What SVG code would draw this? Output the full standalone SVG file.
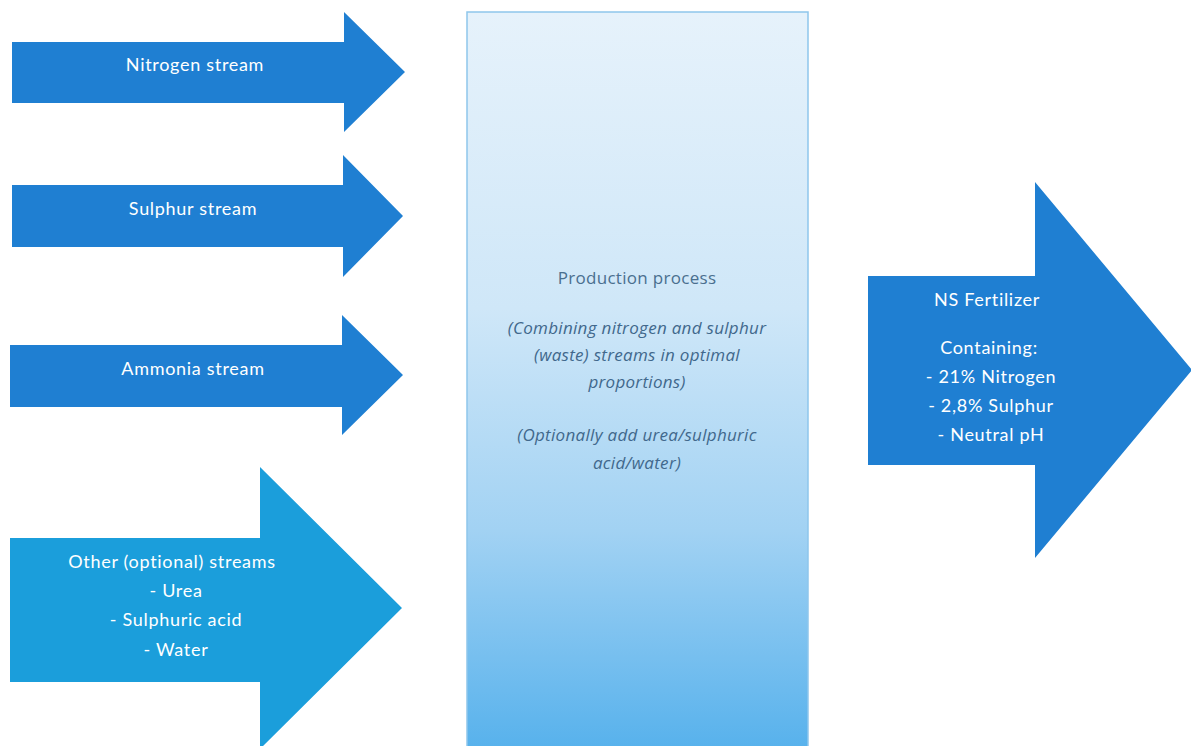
<svg xmlns="http://www.w3.org/2000/svg" width="1191" height="746" viewBox="0 0 1191 746">
  <defs>
    <linearGradient id="procFill" x1="0" y1="0" x2="0" y2="1">
      <stop offset="0" stop-color="#e6f2fb"/>
      <stop offset="0.4" stop-color="#cfe7f8"/>
      <stop offset="0.7" stop-color="#a2d2f3"/>
      <stop offset="1" stop-color="#56b1ec"/>
    </linearGradient>
    <style>
      .arrow { fill: #1f7fd2; }
      .arrow-alt { fill: #1b9edb; }
      .lbl { font-family: Lato, "Open Sans", "Liberation Sans", sans-serif; font-size: 18px; letter-spacing: 0.7px; fill: #ffffff; text-anchor: middle; }
      .proc { font-family: "Open Sans", "Liberation Sans", sans-serif; font-size: 17px; letter-spacing: 0.3px; fill: #4a6f8f; text-anchor: middle; }
      .proc-i { font-style: italic; fill: #41688c; }
    </style>
  </defs>
  <rect width="1191" height="746" fill="#ffffff"/>

  <g id="nitrogen">
    <polygon class="arrow" points="12,42 344,42 344,12 405,72 344,132 344,103 12,103"/>
    <text class="lbl" x="195" y="71">Nitrogen stream</text>
  </g>

  <g id="sulphur">
    <polygon class="arrow" points="12,185 343,185 343,155 403,216 343,277 343,247 12,247"/>
    <text class="lbl" x="193" y="215">Sulphur stream</text>
  </g>

  <g id="ammonia">
    <polygon class="arrow" points="10,345 342,345 342,315 403,375 342,435 342,407 10,407"/>
    <text class="lbl" x="193" y="375">Ammonia stream</text>
  </g>

  <g id="other">
    <polygon class="arrow-alt" points="10,538 260,538 260,467 402,608 260,749 260,682 10,682"/>
    <text class="lbl" x="172" y="568">Other (optional) streams</text>
    <text class="lbl" x="176" y="597">- Urea</text>
    <text class="lbl" x="176" y="626">- Sulphuric acid</text>
    <text class="lbl" x="176" y="656">- Water</text>
  </g>

  <g id="production">
    <rect x="467" y="12" width="341" height="740" fill="url(#procFill)" stroke="#8ec6ec" stroke-width="1.5"/>
    <text class="proc" x="637" y="284">Production process</text>
    <text class="proc proc-i" x="637" y="334">(Combining nitrogen and sulphur</text>
    <text class="proc proc-i" x="637" y="361">(waste) streams in optimal</text>
    <text class="proc proc-i" x="637" y="388">proportions)</text>
    <text class="proc proc-i" x="637" y="441">(Optionally add urea/sulphuric</text>
    <text class="proc proc-i" x="637" y="469">acid/water)</text>
  </g>

  <g id="fertilizer">
    <polygon class="arrow" points="868,276 1035,276 1035,182 1192,370 1035,558 1035,465 868,465"/>
    <text class="lbl" x="987" y="306">NS Fertilizer</text>
    <text class="lbl" x="989" y="354">Containing:</text>
    <text class="lbl" x="991" y="383">- 21% Nitrogen</text>
    <text class="lbl" x="991" y="412">- 2,8% Sulphur</text>
    <text class="lbl" x="991" y="441">- Neutral pH</text>
  </g>

  <g id="connectors"></g>
</svg>
